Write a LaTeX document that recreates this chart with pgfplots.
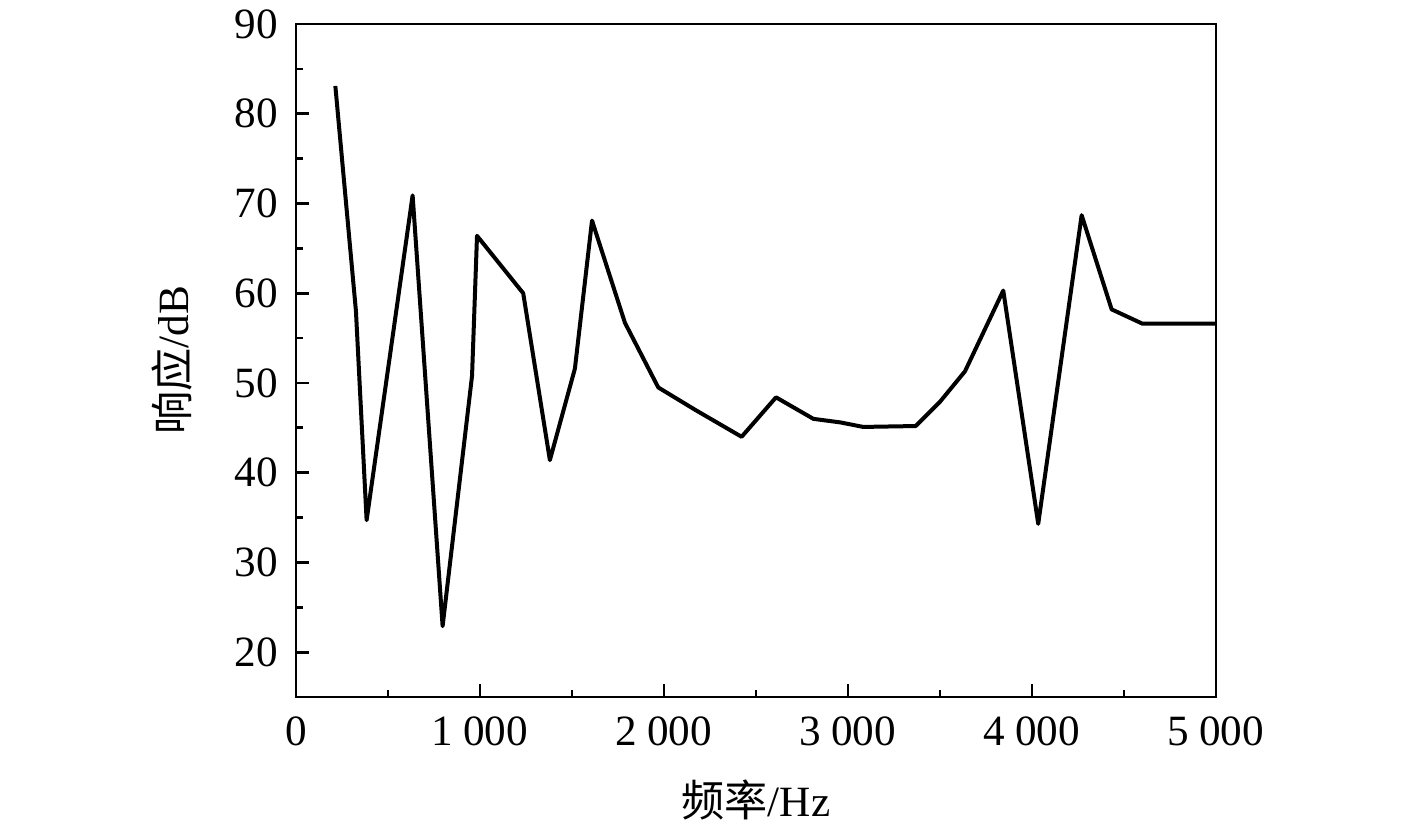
\documentclass[border=0pt]{standalone}
\usepackage{fontspec}
\setmainfont{Liberation Serif}
\newfontfamily\cjk{Noto Sans CJK SC}
\usepackage{pgfplots}
\pgfplotsset{compat=1.18}

\pgfplotstableread{
f     r
214   83.1
326   58.0
384   34.7
634   70.9
797   22.9
957   50.8
984   66.4
1235  60.0
1380  41.4
1516  51.6
1609  68.1
1788  56.7
1969  49.5
2170  47.0
2422  44.0
2609  48.4
2812  46.0
2960  45.6
3083  45.1
3368  45.2
3500  47.9
3636  51.3
3844  60.3
4034  34.3
4270  68.7
4433  58.2
4601  56.6
5000  56.6
}\resp

\begin{document}
\begin{tikzpicture}
\begin{axis}[
    scale only axis,
    width=230pt, height=168.25pt,
    xmin=0, xmax=5000, ymin=15, ymax=90,
    xtick={0,1000,...,5000},
    ytick={20,30,...,90},
    minor x tick num=1, minor y tick num=1,
    tick pos=left,
    tick align=inside,
    major tick length=3.3pt, minor tick length=1.8pt,
    axis line style={line width=0.7pt},
    every tick/.style={line width=0.7pt, black},
    font=\fontsize{10.8}{13}\selectfont,
    /pgf/number format/assume math mode=true,
    /pgf/number format/1000 sep={\:},
    scaled x ticks=false,
    xticklabel style={yshift=-1.5pt},
    yticklabel style={xshift=-1pt},
    xlabel={{\cjk 频率}/Hz},
    ylabel={{\cjk 响应}/dB},
    xlabel style={at={(axis description cs:0.5,-0.153)}, anchor=center},
    ylabel style={at={(axis description cs:-0.135,0.5)}, anchor=center, rotate=0},
    clip=false,
]
\addplot[black, line width=1pt, line join=round] table[x=f, y=r] {\resp};
\coordinate (bl) at (rel axis cs:-0.3217,-0.1961);
\coordinate (tr) at (rel axis cs:1.2185,1.0357);
\end{axis}
\pgfresetboundingbox
\path[use as bounding box] (bl) rectangle (tr);
\end{tikzpicture}
\end{document}
